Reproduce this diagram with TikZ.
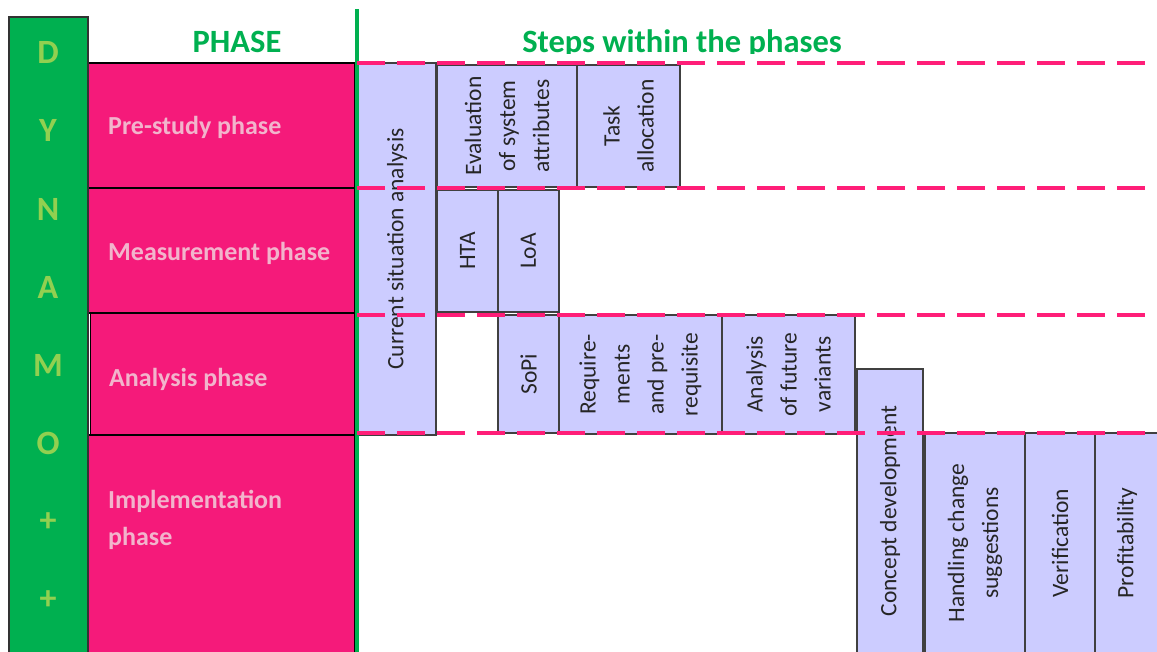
\documentclass[tikz,border=0pt]{standalone}
\usepackage{fontspec}
\setmainfont{Carlito}
\definecolor{dgreen}{RGB}{0,176,80}
\definecolor{lgreen}{RGB}{146,208,80}
\definecolor{phasepink}{RGB}{245,26,122}
\definecolor{dashpink}{RGB}{255,30,120}
\definecolor{labelpink}{RGB}{242,180,204}
\definecolor{lav}{RGB}{204,204,255}
\tikzset{
  phasebox/.style={draw=black, line width=1.2pt, fill=phasepink},
  phaselabel/.style={anchor=base west, text=labelpink, align=left,
    font=\fontsize{26}{37}\selectfont\bfseries, inner sep=0pt},
  letter/.style={text=lgreen, font=\fontsize{34}{36}\selectfont\bfseries, inner sep=0pt},
  header/.style={anchor=base, text=dgreen, font=\fontsize{32.5}{36}\selectfont\bfseries, inner sep=0pt},
  stepbox/.style={draw=black!75, line width=1.2pt, fill=lav, rotate=90, align=center,
    font=\fontsize{23.5}{34}\selectfont, text=black!85, inner sep=0pt},
  divider/.style={draw=dashpink, line width=4pt, dash pattern=on 28pt off 12pt},
}
\begin{document}
\begin{tikzpicture}[x=1pt,y=-1pt]
\useasboundingbox (0,0) rectangle (1157,651);
\clip (0,0) rectangle (1157,651);

% phase column
\draw[phasebox] (88,63) rectangle (355,188);
\draw[phasebox] (88,188) rectangle (355,313);
\draw[phasebox] (90,313) rectangle (355,435);
\draw[phasebox] (88,435) rectangle (355,660);
\draw[white, line width=1pt] (89.6,314) -- (89.6,434);
\node[phaselabel] (pre) at (108,134) {Pre-study phase};
\node[phaselabel] (meas) at (108,260) {Measurement phase};
\node[phaselabel] (ana) at (109,386) {Analysis phase};
\node[phaselabel] (impl) at (108,545) {Implementation\\phase};

% DYNAMO++ column
\draw[draw=black!80, line width=1.2pt, fill=dgreen] (9,17) rectangle (88,660);
\foreach \ch/\yy [count=\i] in {D/52,Y/130,N/209,A/287,M/365,O/443,+/522,+/600}
  \node[letter] (L\i) at (48,\yy) {\ch};

% headers
\node[header] (hphase) at (237,52) {PHASE};
\begin{scope}
  \clip (360,0) rectangle (1157,53);
  \node[header] (hsteps) at (682,52) {Steps within the phases};
\end{scope}

% steps
\node[stepbox, minimum width=372pt, minimum height=78pt] (cur) at (397,249) {Current situation analysis};
\node[stepbox, minimum width=122pt, minimum height=140pt] (eval) at (507,126) {Evaluation\\of system\\attributes};
\node[stepbox, minimum width=122pt, minimum height=103pt] (task) at (628.5,126) {Task\\allocation};
\node[stepbox, minimum width=122pt, minimum height=61pt] (hta) at (467.5,251) {HTA};
\node[stepbox, minimum width=122pt, minimum height=61pt] (loa) at (528.5,251) {LoA};
\node[stepbox, minimum width=118pt, minimum height=61pt] (sopi) at (528.5,374) {SoPi};
\node[stepbox, minimum width=119pt, minimum height=163pt] (req) at (640.5,374.5) {Require-\\ments\\and pre-\\requisite};
\node[stepbox, minimum width=119pt, minimum height=133pt] (afv) at (788.5,374.5) {Analysis\\of future\\variants};
\node[stepbox, minimum width=284pt, minimum height=66pt] (cd) at (890,511) {Concept development};
\node[stepbox, minimum width=220pt, minimum height=100pt] (hcs) at (975,543) {Handling change\\suggestions};
\node[stepbox, minimum width=220pt, minimum height=70pt] (ver) at (1060,543) {Verification};
\node[stepbox, minimum width=220pt, minimum height=64pt] (prof) at (1127,543) {Profitability};

% separating line between phases and steps
\draw[dgreen, line width=4.5pt] (357,9) -- (357,660);

% phase boundaries across the steps
\foreach \yy [count=\i] in {63,188,315,433} {
  \coordinate (s\i) at (357,\yy);
  \coordinate (e\i) at (1160,\yy);
  \draw[divider] (s\i) -- (e\i);
}
\end{tikzpicture}
\end{document}
